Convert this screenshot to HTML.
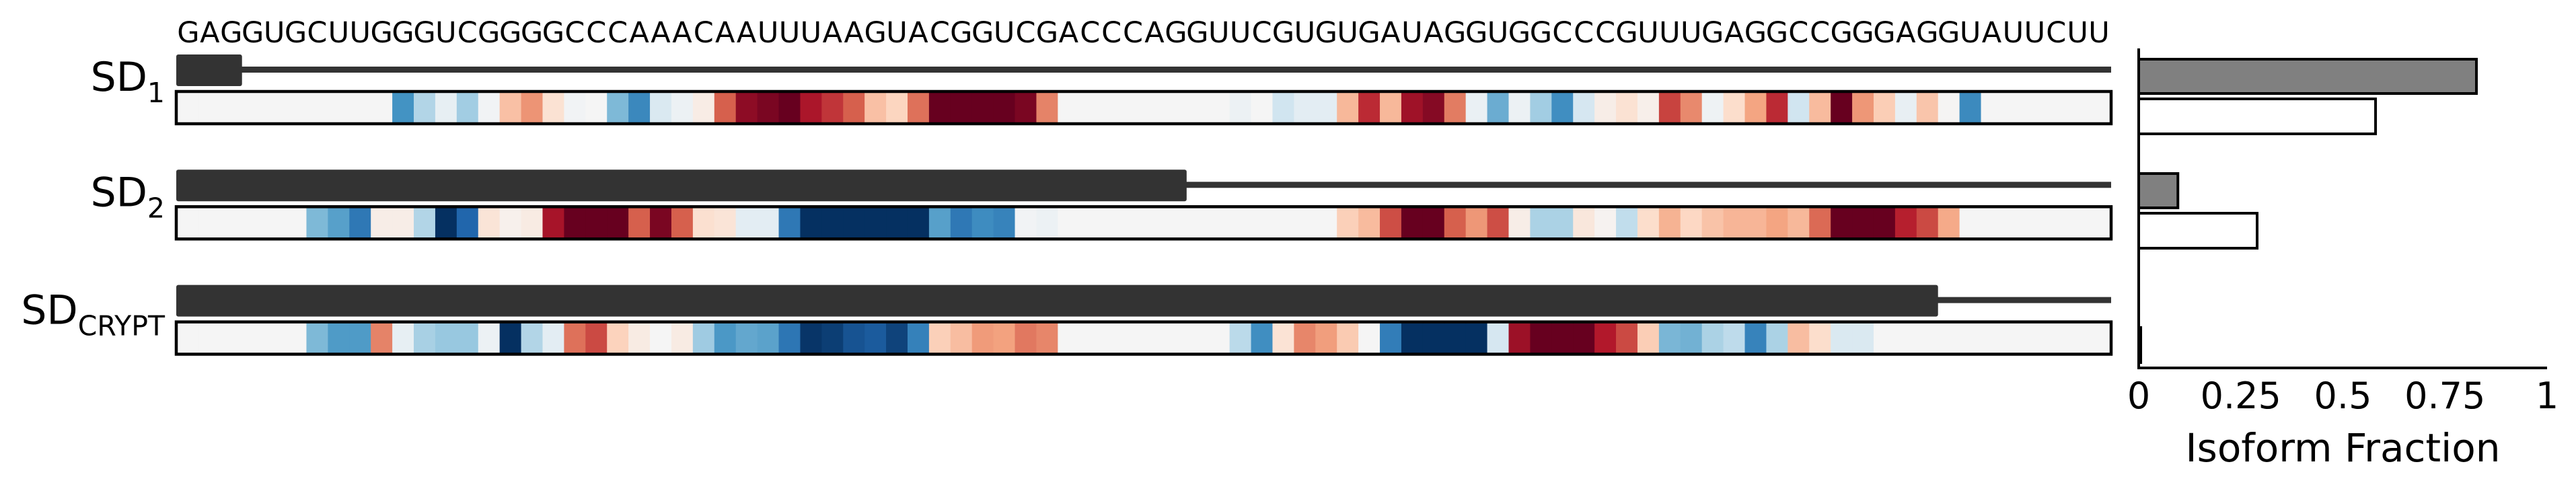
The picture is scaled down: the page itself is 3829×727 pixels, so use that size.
<!DOCTYPE html>
<html><head><meta charset="utf-8"><style>
html,body{margin:0;padding:0;background:#fff;}
svg{display:block;font-family:"DejaVu Sans","Liberation Sans",sans-serif;}
</style></head><body>
<svg id="chart" width="3829" height="727" viewBox="0 0 3829 727" xmlns="http://www.w3.org/2000/svg">
<g id="seq"></g>
<g id="rows"></g>
<g id="bars"></g>
</svg>
<script>
const sequence = "GAGGUGCUUGGGUCGGGGCCCAAACAAUUUAAGUACGGUCGACCCAGGUUCGUGUGAUAGGUGGCCCGUUUGAGGCCGGGAGGUAUUCUU";
const rowNames = ["SD1", "SD2", "SDCRYPT"];
const rowSubs = ["1", "2", "CRYPT"];
const exonEnds = [3, 47, 82];
const row1Values = [0,0,0,0,0,0,0,0,0,0,-0.6,-0.3,-0.08,-0.35,-0.02,0.3,0.45,0.15,-0.02,0,-0.45,-0.65,-0.15,-0.05,0.07,0.6,0.9,0.95,1,0.82,0.72,0.6,0.3,0.22,0.55,1,1,1,1,0.95,0.5,0,0,0,0,0,0,0,0,-0.05,0,-0.2,-0.1,-0.1,0.33,0.75,0.33,0.85,0.92,0.52,-0.06,-0.5,-0.05,-0.35,-0.62,-0.17,0.06,0.15,0.05,0.68,0.48,-0.04,0.18,0.4,0.75,-0.2,0.32,1,0.44,0.25,-0.07,0.28,0.01,-0.64,0,0,0,0,0,0];
const row2Values = [0,0,0,0,0,0,-0.45,-0.55,-0.72,0.06,0.06,-0.3,-1,-0.8,0.13,0.04,0.08,0.83,1,1,1,0.6,0.95,0.6,0.16,0.13,-0.1,-0.1,-0.72,-1,-1,-1,-1,-1,-1,-0.55,-0.72,-0.63,-0.67,-0.02,-0.05,0,0,0,0,0,0,0,0,0,0,0,0,0,0.24,0.32,0.65,1,1,0.6,0.44,0.65,0.06,-0.32,-0.32,0.11,0.02,-0.25,0.18,0.35,0.21,0.29,0.34,0.34,0.4,0.33,0.57,1,1,1,0.78,0.66,0.38,0,0,0,0,0,0,0];
const row3Values = [0,0,0,0,0,0,-0.45,-0.57,-0.57,0.5,-0.08,-0.33,-0.38,-0.38,-0.05,-1,-0.3,-0.1,0.55,0.66,0.23,0.08,0,0.08,-0.36,-0.58,-0.52,-0.54,-0.73,-0.98,-0.95,-0.87,-0.84,-0.93,-0.68,0.24,0.31,0.43,0.41,0.53,0.49,0,0,0,0,0,0,0,0,-0.27,-0.62,0.14,0.49,0.42,0.26,0,-0.7,-1,-1,-1,-1,-0.17,0.86,1,1,1,0.8,0.66,0.25,-0.46,-0.48,-0.32,-0.26,-0.67,-0.32,0.31,0.18,-0.15,-0.15,0,0,0,0,0,0,0,0,0,0,0,0];
const grayFractions = [0.827, 0.096, 0.0];
const whiteFractions = [0.58, 0.29, 0.005];
const tickValues = [0, 0.25, 0.5, 0.75, 1];
const tickLabels = ["0", "0.25", "0.5", "0.75", "1"];

const NS = "http://www.w3.org/2000/svg";
function mk(tag, attrs, parent){const e=document.createElementNS(NS,tag);for(const k in attrs)e.setAttribute(k,attrs[k]);parent.appendChild(e);return e;}
const stops = ["#67001f","#b2182b","#d6604d","#f4a582","#fddbc7","#f5f5f5","#d1e5f0","#92c5de","#4393c3","#2166ac","#053061"];
function hex(c){return [parseInt(c.substr(1,2),16),parseInt(c.substr(3,2),16),parseInt(c.substr(5,2),16)];}
function color(v){let t=(1-v)/2*10;t=Math.max(0,Math.min(10,t));const i=Math.min(9,Math.floor(t)),f=t-i;const a=hex(stops[i]),b=hex(stops[i+1]);return "rgb("+a.map((x,k)=>Math.round(x+(b[k]-x)*f)).join(",")+")";}

const X0=264, X1=3136, N=sequence.length, CW=(X1-X0)/N;
function xPos(i){return X0+i*CW;}
const rowY=[0,171.3,342.6];

const seqG=document.getElementById('seq');
for(let i=0;i<N;i++){
  const t=mk('text',{x:xPos(i)+CW/2,y:63,'font-size':43,'text-anchor':'middle',fill:'#000'},seqG);
  t.textContent=sequence[i];
  
  
}

const rowsG=document.getElementById('rows');
const allValues=[row1Values,row2Values,row3Values];
for(let r=0;r<3;r++){
  const dy=rowY[r];
  const g=mk('g',{},rowsG);
  
  
  const lab=mk('text',{x:245,y:135+dy+(r==2?4:0),'text-anchor':'end',fill:'#000'},g);
  
  
  const t1=mk('tspan',{'font-size':60},lab);t1.textContent="SD";
  const t2=mk('tspan',{'font-size':41,dy:17},lab);t2.textContent=rowSubs[r];
  const line=mk('rect',{x:xPos(0)-2,y:99+dy,width:X1-X0+4,height:9,fill:'#333'},g);
  
  
  const ex=mk('rect',{x:xPos(0)-2,y:81+dy,width:xPos(exonEnds[r])-xPos(0)+2,height:47,rx:3,fill:'#333'},g);
  
  
  const vals=allValues[r];
  for(let i=0;i<N;i++){
    const c=mk('rect',{x:xPos(i),y:138+dy,width:CW+0.6,height:45,fill:color(vals[i])},g);
    
    
  }
  const box=mk('rect',{x:X0-2,y:136+dy,width:X1-X0+4,height:48,fill:'none',stroke:'#000','stroke-width':4.5},g);
  
  
}

const barsG=document.getElementById('bars');
const BX0=3179, BX1=3786;
function bx(v){return BX0+(BX1-BX0)*v;}
for(let r=0;r<3;r++){
  const gb=mk('rect',{x:bx(0),y:88+170*r,width:Math.max(0.5,bx(grayFractions[r])-bx(0)),height:51,fill:'#808080',stroke:'#000','stroke-width':grayFractions[r]>0?4:0},barsG);
  
  
  const wb=mk('rect',{x:bx(0),y:147+170*r,width:Math.max(0.5,bx(whiteFractions[r])-bx(0)),height:52,fill:'#fff',stroke:'#000','stroke-width':4},barsG);
  
  
}
const ya=mk('line',{x1:BX0,y1:72,x2:BX0,y2:549,stroke:'#000','stroke-width':4},barsG);


const xa=mk('line',{x1:BX0-2,y1:547,x2:BX1,y2:547,stroke:'#000','stroke-width':4},barsG);


for(let i=0;i<tickValues.length;i++){
  const t=mk('text',{x:bx(tickValues[i]),y:607,'font-size':54,'text-anchor':'middle',fill:'#000'},barsG);
  t.textContent=tickLabels[i];
  
  
}
const title=mk('text',{x:(BX0+BX1)/2,y:686,'font-size':58,'text-anchor':'middle',fill:'#000'},barsG);
title.textContent="Isoform Fraction";


</script>
</body></html>
